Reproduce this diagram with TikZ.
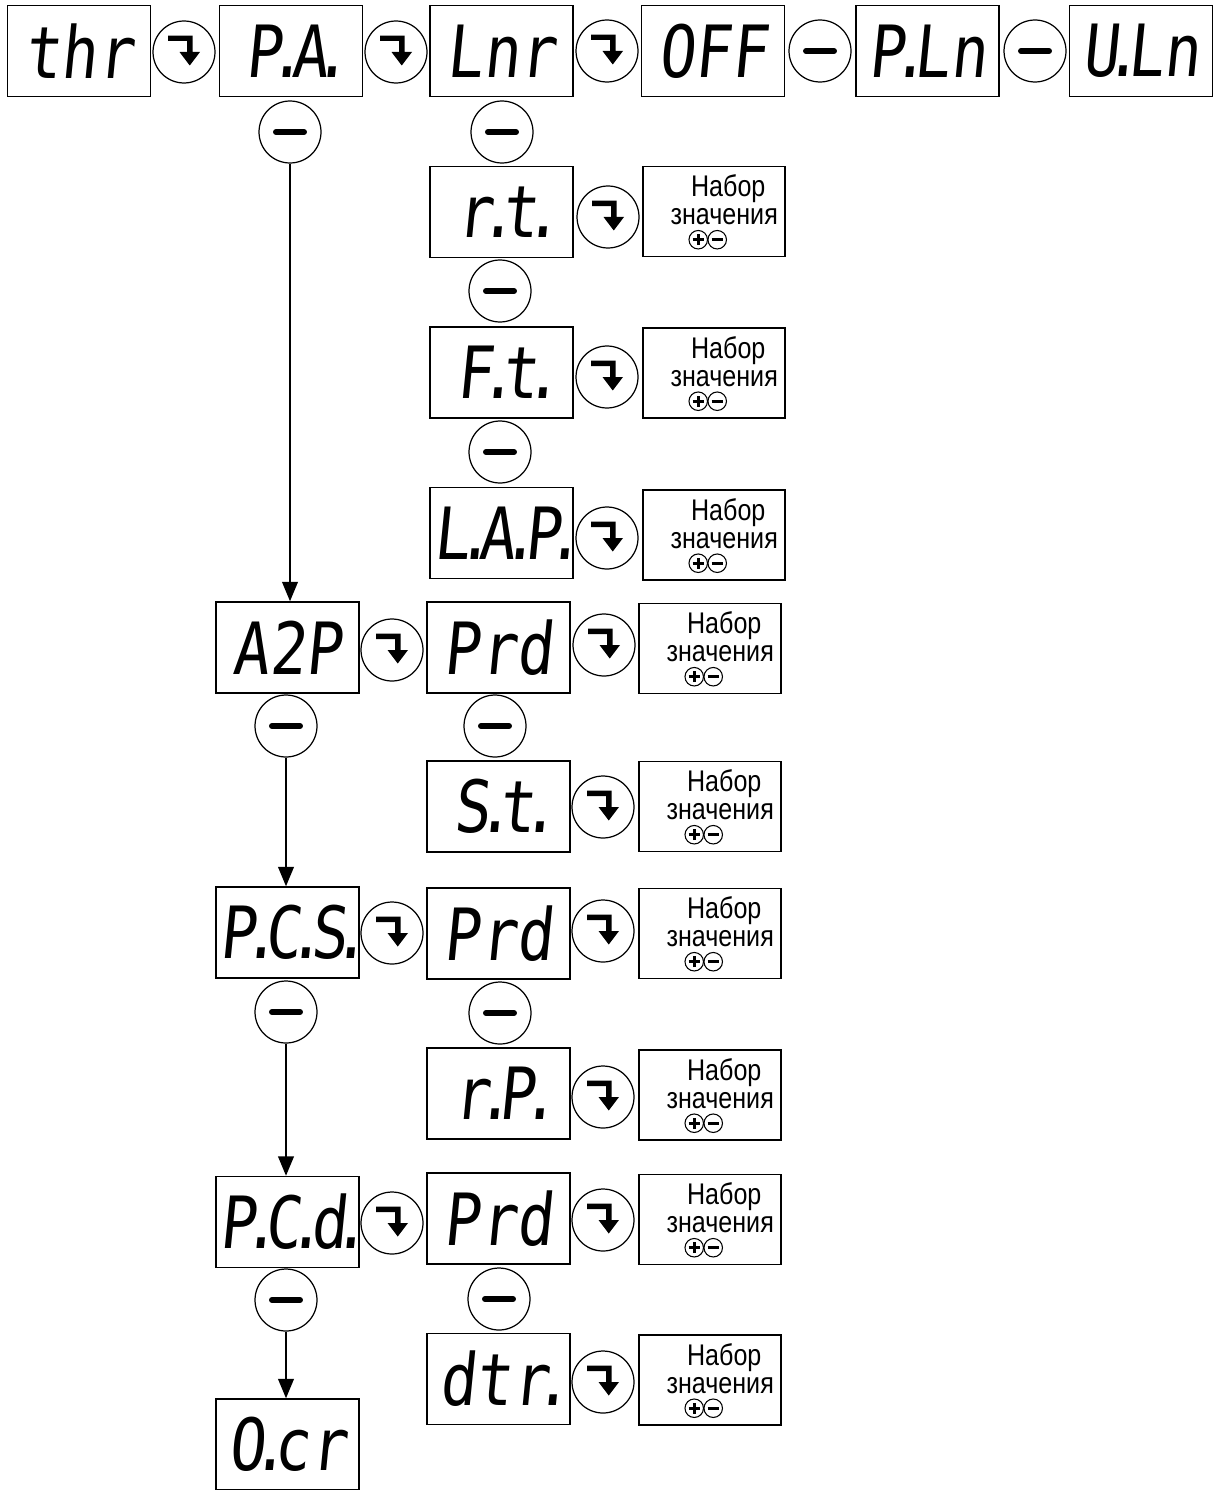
\documentclass[tikz,border=0pt]{standalone}
\usepackage{fontspec}
\setmainfont{Liberation Sans}
\newfontfamily\segfont{DejaVu Sans Mono}[FakeSlant=0.1,FakeStretch=0.84]
\newfontfamily\valfont{Liberation Sans}[FakeStretch=0.84]
\usepackage{tikz}
\usetikzlibrary{arrows.meta}

% dot of a seven-segment digit, takes almost no room of its own
\newcommand{\sdot}{\makebox[0.12em]{.}}

% box "set the value" with its two keys
\newcommand{\valbox}[3]{%
  \node[valbox] (#1) at (#2,#3) {};
  \node[valtext] (#1-a) at ([shift={(86,31)}]#1.north west) {Набор};
  \node[valtext] (#1-b) at ([shift={(82,59)}]#1.north west) {значения};
  \node[plusbtn] (#1-p) at ([shift={(56,74)}]#1.north west) {};
  \node[pmbtn] (#1-m) at ([shift={(75,74)}]#1.north west) {};
}

\begin{document}
\begin{tikzpicture}[
    x=0.02cm, y=-0.02cm,
    disp/.style={rectangle, draw, line width=0.9pt, minimum width=2.86cm, minimum height=1.82cm, inner sep=0pt, font={\segfont\fontsize{41}{41}\selectfont}},
    valbox/.style={rectangle, draw, line width=0.9pt, minimum width=2.84cm, minimum height=1.8cm, inner sep=0pt},
    valtext/.style={anchor=base, inner sep=0pt, font={\valfont\fontsize{17}{17}\selectfont}},
    btn/.style={circle, draw, line width=0.7pt, minimum size=1.24cm, inner sep=0pt},
    enterbtn/.style={btn, path picture={
        \fill[shift={(path picture bounding box.center)}]
          (-0.32cm,0.33cm) -- (0.17cm,0.33cm) -- (0.17cm,0cm) -- (0.32cm,0cm) -- (0.115cm,-0.27cm)
          -- (-0.09cm,0cm) -- (0.06cm,0cm) -- (0.06cm,0.22cm) -- (-0.32cm,0.22cm) -- cycle;}},
    minusbtn/.style={btn, path picture={
        \draw[line width=3.4pt, line cap=round]
          ([xshift=-0.28cm]path picture bounding box.center) -- ([xshift=0.28cm]path picture bounding box.center);}},
    pmbtn/.style={circle, draw, line width=0.6pt, minimum size=0.37cm, inner sep=0pt, path picture={
        \draw[line width=1.6pt]
          ([xshift=-0.11cm]path picture bounding box.center) -- ([xshift=0.11cm]path picture bounding box.center);}},
    plusbtn/.style={circle, draw, line width=0.6pt, minimum size=0.37cm, inner sep=0pt, path picture={
        \draw[line width=1.6pt]
          ([xshift=-0.11cm]path picture bounding box.center) -- ([xshift=0.11cm]path picture bounding box.center)
          ([yshift=-0.11cm]path picture bounding box.center) -- ([yshift=0.11cm]path picture bounding box.center);}},
    flow/.style={-{Triangle[width=9pt,length=11pt]}, line width=0.7pt}
]
    \useasboundingbox (0,0) rectangle (1213,1490);

    % top row
    \node[disp] (thr) at (79,51) {thr};
    \node[enterbtn] (thr-e) at (184,52) {};
    \node[disp] (pa) at (291,51) {P\sdot A\sdot};
    \node[enterbtn] (pa-e) at (396,52) {};
    \node[disp] (lnr) at (501.5,51) {Lnr};
    \node[enterbtn] (lnr-e) at (607,51) {};
    \node[disp] (off) at (713,51) {OFF};
    \node[minusbtn] (off-m) at (820,51) {};
    \node[disp] (pln) at (927.5,51) {P\sdot Ln};
    \node[minusbtn] (pln-m) at (1035,51) {};
    \node[disp] (uln) at (1141,51) {U\sdot Ln};

    % Lnr branch
    \node[minusbtn] (lnr-m) at (502,132) {};
    \node[disp] (rt) at (501.5,212) {r\sdot t\sdot};
    \node[enterbtn] (rt-e) at (608,217) {};
    \valbox{rt-v}{714}{211.5}
    \node[minusbtn] (rt-m) at (500,291) {};
    \node[disp] (ft) at (501.5,372.5) {F\sdot t\sdot};
    \node[enterbtn] (ft-e) at (607,377) {};
    \valbox{ft-v}{714}{373}
    \node[minusbtn] (ft-m) at (500,452) {};
    \node[disp] (lap) at (501.5,533) {L\sdot A\sdot P\sdot};
    \node[enterbtn] (lap-e) at (607,538) {};
    \valbox{lap-v}{714}{535}

    % P.A. branch
    \node[minusbtn] (pa-m) at (290,132) {};
    \node[disp] (atp) at (287.5,647.5) {A2P};
    \node[enterbtn] (atp-e) at (392,650) {};
    \node[disp] (prda) at (498.5,647.5) {Prd};
    \node[enterbtn] (prda-e) at (604,645) {};
    \valbox{prda-v}{710}{648.5}
    \node[minusbtn] (atp-m) at (286,726) {};
    \node[minusbtn] (prda-m) at (495,726) {};
    \node[disp] (st) at (498.5,806.5) {S\sdot t\sdot};
    \node[enterbtn] (st-e) at (603,807) {};
    \valbox{st-v}{710}{806.5}

    \node[disp] (pcs) at (287.5,932.5) {P\sdot C\sdot S\sdot};
    \node[enterbtn] (pcs-e) at (392,933) {};
    \node[disp] (prdb) at (498.5,933.5) {Prd};
    \node[enterbtn] (prdb-e) at (603,931) {};
    \valbox{prdb-v}{710}{933.5}
    \node[minusbtn] (pcs-m) at (286,1012) {};
    \node[minusbtn] (prdb-m) at (500,1013) {};
    \node[disp] (rp) at (498.5,1093.5) {r\sdot P\sdot};
    \node[enterbtn] (rp-e) at (603,1097) {};
    \valbox{rp-v}{710}{1095}

    \node[disp] (pcd) at (287.5,1222) {P\sdot C\sdot d\sdot};
    \node[enterbtn] (pcd-e) at (392,1223) {};
    \node[disp] (prdc) at (498.5,1218.5) {Prd};
    \node[enterbtn] (prdc-e) at (603,1220) {};
    \valbox{prdc-v}{710}{1219.5}
    \node[minusbtn] (pcd-m) at (286,1300) {};
    \node[minusbtn] (prdc-m) at (499,1299) {};
    \node[disp] (dtr) at (498.5,1379) {dtr\sdot};
    \node[enterbtn] (dtr-e) at (603,1382) {};
    \valbox{dtr-v}{710}{1380}
    \node[disp] (ocr) at (287.5,1444.5) {O\sdot cr};

    \draw[flow] (pa-m) -- (pa-m |- atp.north);
    \draw[flow] (atp-m) -- (atp-m |- pcs.north);
    \draw[flow] (pcs-m) -- (pcs-m |- pcd.north);
    \draw[flow] (pcd-m) -- (pcd-m |- ocr.north);
\end{tikzpicture}
\end{document}
